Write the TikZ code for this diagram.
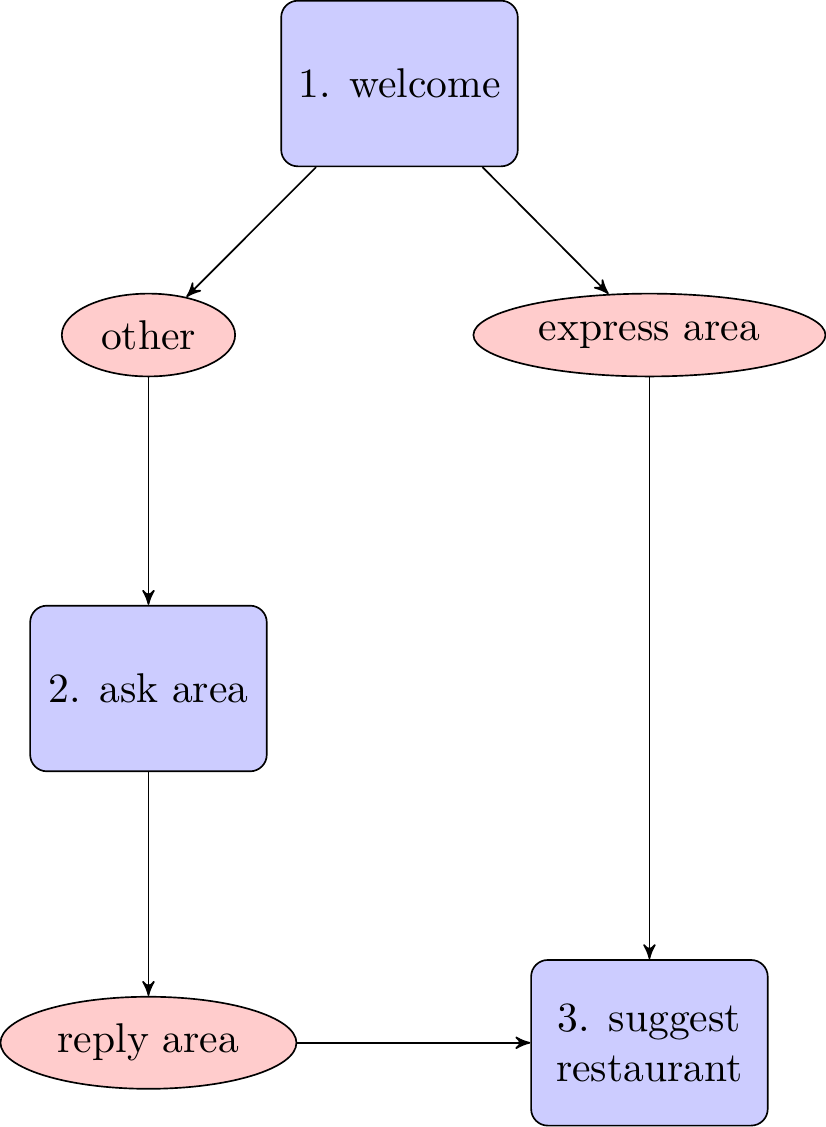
\documentclass[tikz,border=0pt]{standalone}
\usetikzlibrary{shapes.geometric,arrows}
\begin{document}
\begin{tikzpicture}[
  statebox/.style={draw, fill=blue!20, rounded corners, minimum width=2cm, minimum height=1.4cm, align=center},
  eventbox/.style={draw, fill=red!20, ellipse, minimum height=0.7cm},
  conn/.style={->},
  >=stealth']
\useasboundingbox (0,0) rectangle (6.982,-9.527);
\node[statebox] (w) at (3.377,-0.706) {1. welcome};
\node[eventbox] (o) at (1.255,-2.832) {other};
\node[eventbox] (e) at (5.490,-2.832) {express area};
\node[statebox] (a) at (1.255,-5.820) {2. ask area};
\node[eventbox] (r) at (1.255,-8.815) {reply area};
\node[statebox] (s) at (5.490,-8.815) {3. suggest\\restaurant};
\draw[conn] (w) -- (o);
\draw[conn] (w) -- (e);
\draw[conn] (o) -- (a);
\draw[conn] (a) -- (r);
\draw[conn] (e) -- (s);
\draw[conn] (r) -- (s);
\end{tikzpicture}
\end{document}
